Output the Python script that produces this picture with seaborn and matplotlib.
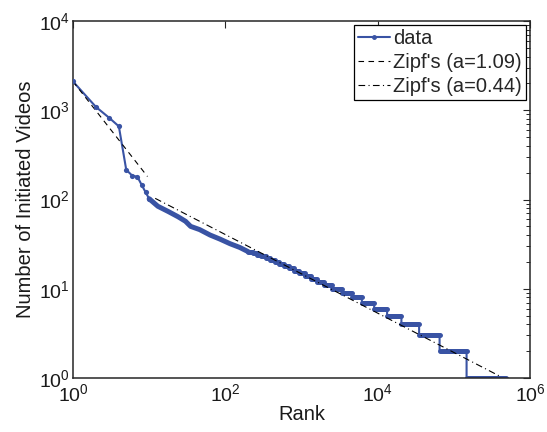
import numpy as np
import pandas as pd
import matplotlib
matplotlib.use("Agg")
import matplotlib.pyplot as plt
import seaborn as sns
from matplotlib.lines import Line2D
from matplotlib.ticker import LogLocator, LogFormatterSciNotation, NullLocator

# ---------------- data ----------------
head_ranks = [1, 2, 3, 4, 5, 6, 7, 8, 9, 10]
head_counts = [2100, 1090, 820, 660, 215, 185, 180, 145, 120, 102]

mid_ranks = [11, 13, 18, 24, 30, 35, 46, 63, 85, 115, 155]
mid_counts = [95, 84, 73, 64, 57, 50, 46, 40, 36, 32, 29]

step_counts = [26, 25, 24, 23, 22, 21, 20, 19, 18, 17, 16, 15, 14,
               13, 12, 11, 10, 9, 8, 7, 6, 5, 4, 3, 2, 1]
step_starts = [200, 228, 258, 295, 340, 390, 445, 510, 590, 690, 800, 940,
               1100, 1320, 1600, 1950, 2500, 3400, 4600, 6200, 9000, 13300,
               20500, 35000, 65000, 147000]
last_rank = 480000

zipf1_ranks = [1, 9.5]
zipf1_counts = [2100, 181]
zipf2_ranks = [12, 400000]
zipf2_counts = [103, 1.05]

legend_labels = ["data", "Zipf's (a=1.09)", "Zipf's (a=0.44)"]
x_label = "Rank"
y_label = "Number of Initiated Videos"

# ---------------- build tables ----------------
step_ends = step_starts[1:] + [last_rank]
path_r = list(head_ranks) + list(mid_ranks)
path_c = list(head_counts) + list(mid_counts)
for k, s, e in zip(step_counts, step_starts, step_ends):
    path_r += [s, e]
    path_c += [k, k]
path_df = pd.DataFrame({"rank": path_r, "count": path_c})

dense_r = [head_ranks[-1]] + list(mid_ranks) + [step_starts[0]]
dense_c = [head_counts[-1]] + list(mid_counts) + [step_counts[0]]
dense_df = pd.DataFrame({"rank": dense_r, "count": dense_c})
head_df = pd.DataFrame({"rank": head_ranks, "count": head_counts})
z1_df = pd.DataFrame({"rank": zipf1_ranks, "count": zipf1_counts})
z2_df = pd.DataFrame({"rank": zipf2_ranks, "count": zipf2_counts})

# ---------------- style ----------------
sns.set_style("white")
plt.rcParams["font.family"] = ["Liberation Sans", "DejaVu Sans"]
plt.rcParams["mathtext.default"] = "regular"
FS = 14.5
TFS = 14
blue = "#3953A4"
axcol = "#262626"
txtcol = "#1a1a1a"

fig = plt.figure(figsize=(5.47, 4.32), dpi=100)
ax = fig.add_axes([73 / 547, 1 - 378 / 432, (530 - 73) / 547, (378 - 21) / 432])

# thin full path
sns.lineplot(data=path_df, x="rank", y="count", sort=False, estimator=None,
             color=blue, lw=1.5, ax=ax, legend=False)
# dense-marker look of the middle part
sns.lineplot(data=dense_df, x="rank", y="count", sort=False, estimator=None,
             color=blue, lw=3.6, ax=ax, legend=False,
             solid_capstyle="round")
ax.hlines(step_counts, step_starts, step_ends, colors=blue, lw=3.6,
          capstyle="round")
# markers on the first points
sns.scatterplot(data=head_df, x="rank", y="count", color=blue, s=14,
                edgecolor=blue, linewidth=0, ax=ax, legend=False, zorder=3)
# Zipf fits
sns.lineplot(data=z1_df, x="rank", y="count", color="black", lw=0.8,
             ax=ax, legend=False, linestyle=(0, (5, 4)))
sns.lineplot(data=z2_df, x="rank", y="count", color="black", lw=0.8,
             ax=ax, legend=False, linestyle=(0, (6, 3, 1, 3)))

ax.set_xscale("log")
ax.set_yscale("log")
ax.set_xlim(1, 1e6)
ax.set_ylim(1, 1e4)

ax.xaxis.set_major_locator(LogLocator(base=100, numticks=10))
ax.xaxis.set_major_formatter(LogFormatterSciNotation(base=10))
ax.xaxis.set_minor_locator(NullLocator())
ax.yaxis.set_major_locator(LogLocator(base=10, numticks=10))
ax.yaxis.set_minor_locator(LogLocator(base=10, subs=np.arange(2, 10), numticks=20))

ax.tick_params(axis="both", which="both", direction="in", top=True,
               right=True, colors=axcol, labelcolor=txtcol)
ax.tick_params(axis="both", which="major", length=5, width=0.8,
               labelsize=TFS)
ax.tick_params(axis="both", which="minor", length=3, width=0.7)
ax.tick_params(axis="x", which="major", pad=4)
ax.tick_params(axis="y", which="major", pad=2)
for sp in ax.spines.values():
    sp.set_color(axcol)
    sp.set_linewidth(1.1)

ax.set_xlabel(x_label, fontsize=FS, color=txtcol, labelpad=0)
ax.set_ylabel(y_label, fontsize=FS, color=txtcol, labelpad=3)

handles = [
    Line2D([], [], color=blue, lw=1.5, marker=".", markersize=5),
    Line2D([], [], color="black", lw=0.8, linestyle=(0, (5, 4))),
    Line2D([], [], color="black", lw=0.8, linestyle=(0, (6, 3, 1, 3))),
]
leg = ax.legend(handles, legend_labels, loc="upper right", fontsize=FS,
                frameon=True, fancybox=False, edgecolor="black",
                framealpha=1, handlelength=1.6, handletextpad=0.15,
                labelspacing=0.25, borderpad=0.2, borderaxespad=0.2)
leg.get_frame().set_linewidth(0.9)

fig.savefig("out.png", dpi=100)
